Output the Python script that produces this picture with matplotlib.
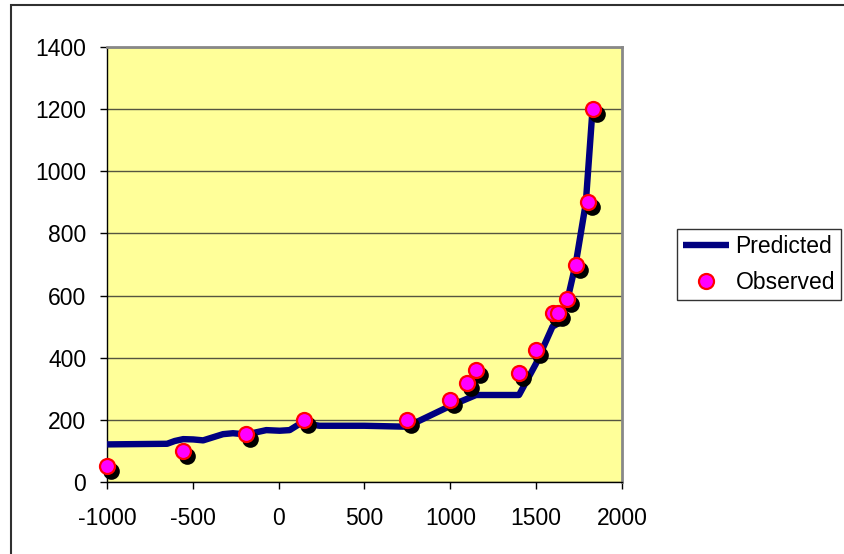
import matplotlib.pyplot as plt
import matplotlib.transforms as mtransforms
from matplotlib.patches import Rectangle

plt.rcParams['font.family'] = ['Liberation Sans', 'DejaVu Sans']
plt.rcParams['axes.unicode_minus'] = False

# Predicted curve
pred_x = [-1000, -650, -605, -556, -498, -440, -382, -324, -266, -188, -130, -72,
          6, 64, 122, 180, 238, 500, 742, 781, 1000, 1150, 1400, 1500, 1595,
          1643, 1682, 1731, 1789, 1828]
pred_y = [121, 123, 132, 138, 137, 134, 144, 154, 157, 153, 160, 167,
          165, 167, 187, 186, 181, 181, 178, 187, 245, 280, 280, 382, 500,
          515, 586, 704, 897, 1197]

# Observed points
obs_x = [-1000, -560, -190, 150, 750, 1000, 1100, 1150, 1400, 1500, 1600,
         1630, 1680, 1730, 1800, 1830]
obs_y = [50, 100, 155, 200, 200, 265, 320, 360, 350, 425, 545,
         545, 590, 700, 900, 1200]

x_ticks = [-1000, -500, 0, 500, 1000, 1500, 2000]
y_ticks = [0, 200, 400, 600, 800, 1000, 1200, 1400]

fig = plt.figure(figsize=(8.44, 5.54), dpi=100)
# outer chart border
fig.patches.append(Rectangle((11 / 844, -0.5), 2, 1.5 - 5 / 554,
                             transform=fig.transFigure, fill=False,
                             edgecolor='#303030', linewidth=1.5))

ax = fig.add_axes([107 / 844, 1 - 482 / 554, 515 / 844, 435 / 554])
ax.set_facecolor('#FFFF99')

ax.plot(pred_x, pred_y, color='#000080', linewidth=4.6,
        solid_joinstyle='round', solid_capstyle='butt', label='Predicted', zorder=3)

# shadow under observed markers
shadow = ax.transData + mtransforms.ScaledTranslation(4 / 100, -5 / 100, fig.dpi_scale_trans)
ax.plot(obs_x, obs_y, linestyle='none', marker='o', markersize=12,
        color='black', markeredgewidth=0, transform=shadow, zorder=4, clip_on=False)
ax.plot(obs_x, obs_y, linestyle='none', marker='o', markersize=10.8,
        markerfacecolor='#FF00FF', markeredgecolor='#FF0000', markeredgewidth=1.6,
        label='Observed', zorder=5, clip_on=False)

ax.set_xlim(-1000, 2000)
ax.set_ylim(0, 1400)
ax.set_xticks(x_ticks)
ax.set_yticks(y_ticks)
ax.yaxis.grid(True, color='#555540', linewidth=1)
ax.set_axisbelow(True)
ax.tick_params(direction='out', length=5, width=1, labelsize=16.5, color='black')
ax.tick_params(axis='y', pad=10)
ax.tick_params(axis='x', pad=13)

for side in ['top', 'right']:
    ax.spines[side].set_color('#888888')
    ax.spines[side].set_linewidth(2)
for side in ['left', 'bottom']:
    ax.spines[side].set_color('black')
    ax.spines[side].set_linewidth(1)

leg = fig.legend(loc='upper left', bbox_to_anchor=(677 / 844, 1 - 229 / 554),
                 frameon=True, fancybox=False, fontsize=16.5, borderaxespad=0,
                 handlelength=2.0, handletextpad=0.3, borderpad=0.25,
                 labelspacing=0.6, numpoints=1)
leg.get_frame().set_edgecolor('black')
leg.get_frame().set_linewidth(1)

fig.savefig('out.png', dpi=100)
